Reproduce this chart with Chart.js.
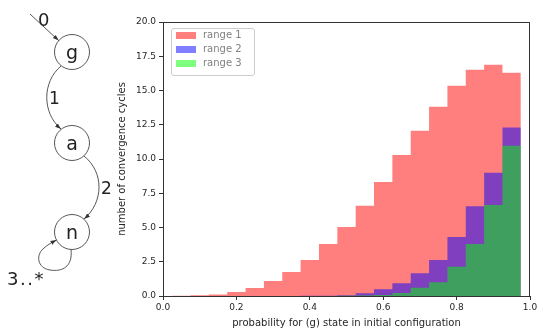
<!DOCTYPE html>
<html>
<head>
<meta charset="utf-8">
<script src="https://cdn.jsdelivr.net/npm/chart.js@4.4.0/dist/chart.umd.min.js"></script>
<style>
  html, body { margin: 0; padding: 0; background: #fff; }
  #wrap { position: relative; width: 543px; height: 334px; }
  #diagram { position: absolute; left: 0; top: 0; }
  #diagram text { font-family: "DejaVu Sans", sans-serif; fill: #222; }
</style>
</head>
<body>
<div id="wrap">
  <canvas id="myChart" width="543" height="334"></canvas>
  <!-- state diagram g -> a -> n (loop) -->
  <svg id="diagram" width="118" height="334">
    <defs>
      <marker id="ah" viewBox="0 0 10 10" refX="10" refY="5" markerUnits="userSpaceOnUse"
              markerWidth="6" markerHeight="6" orient="auto">
        <path d="M0,1.5 L10,5 L0,8.5 z" fill="#333"/>
      </marker>
    </defs>
    <g fill="none" stroke="#444" stroke-width="0.9">
      <circle cx="72" cy="52" r="17.5"/>
      <circle cx="72" cy="143" r="17.5"/>
      <circle cx="72" cy="232" r="17.5"/>
      <path d="M30 14 L58.7 40.6" marker-end="url(#ah)"/>
      <path d="M61 66 C42 82, 42 113, 61 129" marker-end="url(#ah)"/>
      <path d="M84 156 C104 172, 104 202, 84 219" marker-end="url(#ah)"/>
      <path d="M71 249.5 C73 267, 62 272, 50 270 C37 268, 36 255, 43 249 C47 245, 51 243, 56.5 240" marker-end="url(#ah)"/>
    </g>
    <text x="72" y="59" font-size="19" text-anchor="middle">g</text>
    <text x="72" y="150" font-size="19" text-anchor="middle">a</text>
    <text x="72" y="239" font-size="19" text-anchor="middle">n</text>
    <text x="38" y="26" font-size="18">0</text>
    <text x="49" y="104" font-size="17">1</text>
    <text x="101" y="194" font-size="17">2</text>
    <text x="7" y="285" font-size="18" letter-spacing="1.5">3..*</text>
  </svg>
</div>
<script>
// histogram bins (centres, width 0.05) and counts per range
const binCenters = [0.00, 0.05, 0.10, 0.15, 0.20, 0.25, 0.30, 0.35, 0.40, 0.45,
                    0.50, 0.55, 0.60, 0.65, 0.70, 0.75, 0.80, 0.85, 0.90, 0.95];
const binWidth = 0.05;
const range1 = [0, 0.01, 0.05, 0.11, 0.29, 0.58, 1.1, 1.75, 2.63, 3.8,
                5.04, 6.58, 8.33, 10.3, 12.06, 13.81, 15.35, 16.51, 16.88, 16.3];
const range2 = [0, 0, 0, 0, 0, 0, 0, 0, 0.01, 0.02,
                0.06, 0.2, 0.5, 0.93, 1.66, 2.63, 4.3, 6.55, 9.0, 12.3];
const range3 = [0, 0, 0, 0, 0, 0, 0, 0, 0, 0,
                0.01, 0.03, 0.08, 0.22, 0.61, 1.0, 2.14, 3.8, 6.65, 10.96];
const rangeLabels = ['range 1', 'range 2', 'range 3'];
const xTicks = [0, 0.2, 0.4, 0.6, 0.8, 1.0];
const yTicks = [0, 2.5, 5, 7.5, 10, 12.5, 15, 17.5, 20];

// each bin becomes a flat step from its left edge to the next edge (filled, no seams)
const toSteps = arr => {
  const last = binCenters.length - 1;
  return binCenters.map((c, i) => ({ x: c - binWidth / 2, y: arr[i] }))
    .concat([{ x: binCenters[last] + binWidth / 2, y: arr[last] }]);
};

// spines on all four sides + legend box inside the plot
const framePlugin = {
  id: 'frame',
  afterDraw(chart) {
    const { ctx, chartArea: a } = chart;
    ctx.save();
    ctx.strokeStyle = '#333';
    ctx.lineWidth = 1;
    ctx.strokeRect(a.left + 0.5, a.top + 0.5, a.right - a.left - 1, a.bottom - a.top);

    const lx = 171, ly = 28, lw = 83, lh = 47;
    ctx.beginPath();
    ctx.roundRect(lx + 0.5, ly + 0.5, lw, lh, 2.5);
    ctx.fillStyle = 'rgba(255,255,255,0.8)';
    ctx.fill();
    ctx.strokeStyle = '#cccccc';
    ctx.stroke();
    ctx.font = '10px "DejaVu Sans"';
    ctx.textBaseline = 'middle';
    chart.data.datasets.forEach((ds, i) => {
      const y = 32 + i * 14;
      ctx.fillStyle = ds.backgroundColor;
      ctx.fillRect(176, y, 20, 7);
      ctx.fillStyle = '#808080';
      ctx.fillText(ds.label, 203, y + 3.5);
    });
    ctx.restore();
  }
};

const ctx = document.getElementById('myChart').getContext('2d');
new Chart(ctx, {
  type: 'line',
  data: {
    datasets: [
      { label: rangeLabels[0], data: toSteps(range1), backgroundColor: 'rgba(255,0,0,0.5)', order: 3 },
      { label: rangeLabels[1], data: toSteps(range2), backgroundColor: 'rgba(0,0,255,0.5)', order: 2 },
      { label: rangeLabels[2], data: toSteps(range3), backgroundColor: 'rgba(0,255,0,0.5)', order: 1 }
    ].map(d => Object.assign(d, {
      stepped: 'before',
      fill: 'origin',
      borderWidth: 0,
      borderColor: 'rgba(0,0,0,0)',
      pointRadius: 0,
      pointHoverRadius: 0
    }))
  },
  options: {
    responsive: false,
    animation: false,
    devicePixelRatio: 1,
    layout: { padding: { left: 115, top: 22, right: 13, bottom: 0 } },
    plugins: {
      legend: { display: false },
      tooltip: { enabled: false },
      filler: { propagate: false }
    },
    scales: {
      x: {
        type: 'linear',
        min: 0,
        max: 1,
        offset: false,
        grid: { offset: false, drawOnChartArea: false, tickLength: 4, color: '#333' },
        border: { display: false },
        afterBuildTicks: s => { s.ticks = xTicks.map(v => ({ value: v })); },
        afterFit: s => { s.height = 38; },
        ticks: {
          color: '#262626',
          font: { family: 'DejaVu Sans', size: 9 },
          padding: 2,
          maxRotation: 0,
          callback: v => v.toFixed(1)
        },
        title: {
          display: true,
          text: 'probability for (g) state in initial configuration',
          color: '#262626',
          font: { family: 'DejaVu Sans', size: 10 },
          padding: { top: 0, bottom: 5 }
        }
      },
      y: {
        min: 0,
        max: 20,
        grid: { drawOnChartArea: false, tickLength: 4, color: '#333' },
        border: { display: false },
        afterBuildTicks: s => { s.ticks = yTicks.map(v => ({ value: v })); },
        afterFit: s => { s.width = 48; },
        ticks: {
          color: '#262626',
          font: { family: 'DejaVu Sans', size: 9 },
          padding: 3,
          callback: v => v.toFixed(1)
        },
        title: {
          display: true,
          text: 'number of convergence cycles',
          color: '#262626',
          font: { family: 'DejaVu Sans', size: 10 },
          padding: { top: 1, bottom: 0 }
        }
      }
    }
  },
  plugins: [framePlugin]
});
</script>
</body>
</html>
